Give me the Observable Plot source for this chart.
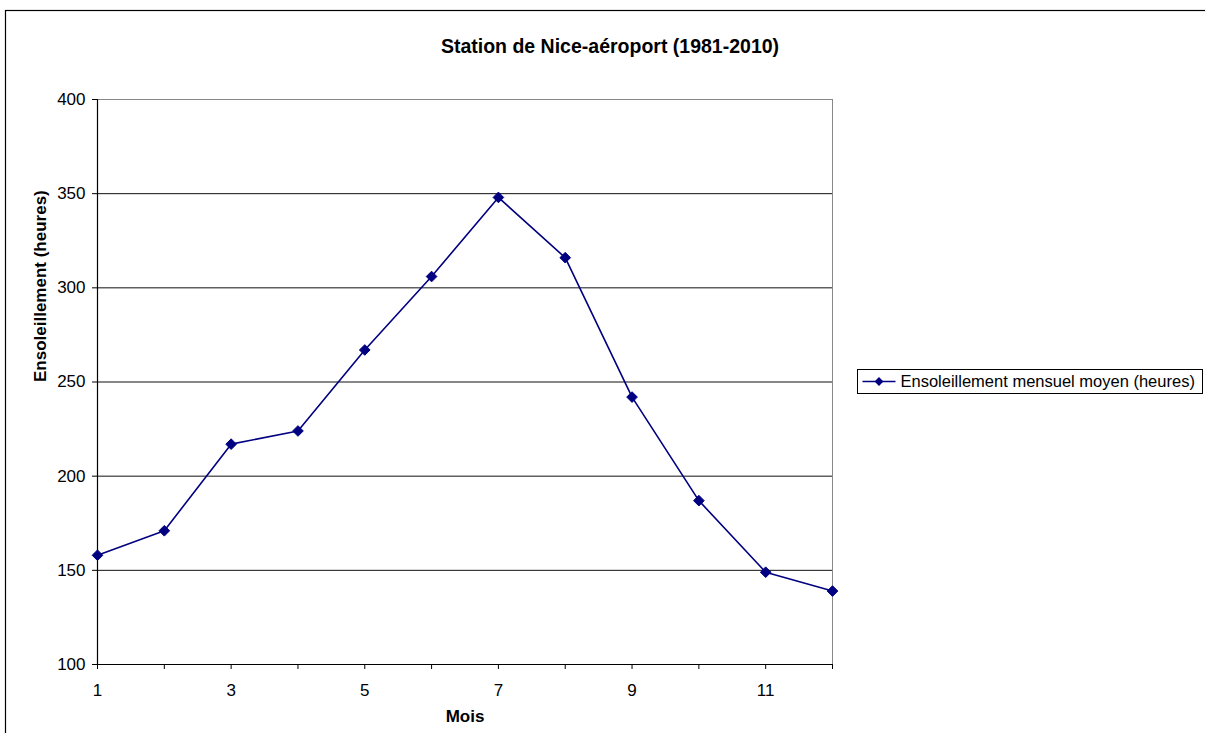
<!DOCTYPE html>
<html>
<head>
<meta charset="utf-8">
<script src="https://cdn.jsdelivr.net/npm/d3@7"></script>
<script src="https://cdn.jsdelivr.net/npm/@observablehq/plot@0.6"></script>
<style>
  html, body { margin: 0; padding: 0; background: #fff; }
  svg { display: block; }
</style>
</head>
<body>
<div id="chart"></div>
<script>
const months = [1, 2, 3, 4, 5, 6, 7, 8, 9, 10, 11, 12];
const sunshine = [158, 171, 217, 224, 267, 306, 348, 316, 242, 187, 149, 139];
const yTicks = [100, 150, 200, 250, 300, 350, 400];
const gridTicks = [150, 200, 250, 300, 350];
const title = "Station de Nice-aéroport (1981-2010)";
const xLabel = "Mois";
const yLabel = "Ensoleillement (heures)";
const seriesName = "Ensoleillement mensuel moyen (heures)";

const data = months.map((m, i) => ({month: m, value: sunshine[i]}));
const navy = "#000080";
const font = "'Liberation Sans', Arial, sans-serif";

const plot = Plot.plot({
  width: 1205,
  height: 733,
  marginLeft: 97,
  marginTop: 99,
  marginRight: 373,
  marginBottom: 69,
  style: {fontFamily: font, fontSize: "17px", color: "#000", background: "#fff"},
  x: {domain: [1, 12]},
  y: {domain: [100, 400]},
  marks: [
    Plot.frame({stroke: "#888", strokeWidth: 1}),
    Plot.ruleY(gridTicks, {stroke: "#111", strokeWidth: 1}),
    Plot.axisX({ticks: months, tickFormat: d => (d % 2 ? String(d) : ""), tickSize: 5, tickPadding: 14, label: null, fontSize: 17}),
    Plot.axisY({ticks: yTicks, tickSize: 5, tickPadding: 7, label: null, fontSize: 17}),
    Plot.ruleX([1], {stroke: "#000", strokeWidth: 1.2}),
    Plot.ruleY([100], {stroke: "#000", strokeWidth: 1.2}),
    Plot.line(data, {x: "month", y: "value", stroke: navy, strokeWidth: 1.6}),
    Plot.dot(data, {x: "month", y: "value", symbol: "diamond2", r: 4.8, fill: navy, stroke: navy, strokeWidth: 1}),
    Plot.text([title], {frameAnchor: "top", dx: 145, dy: -60, fontWeight: "bold", fontSize: 19.5}),
    Plot.text([xLabel], {frameAnchor: "bottom", dy: 57, fontWeight: "bold", fontSize: 17}),
    Plot.text([yLabel], {frameAnchor: "left", dx: -57, dy: 0, rotate: -90, fontWeight: "bold", fontSize: 17})
  ]
});

document.getElementById("chart").appendChild(plot);

// outer border and legend
const svg = d3.select(plot);
svg.insert("rect", ":first-child")
  .attr("x", 5.5).attr("y", 10.5)
  .attr("width", 1205).attr("height", 800)
  .attr("fill", "#fff").attr("stroke", "#000").attr("stroke-width", 1.2);

const lg = svg.append("g").attr("transform", "translate(857.5,369.5)");
lg.append("rect").attr("width", 345).attr("height", 24)
  .attr("fill", "#fff").attr("stroke", "#000").attr("stroke-width", 1);
lg.append("line").attr("x1", 5).attr("x2", 38).attr("y1", 12).attr("y2", 12)
  .attr("stroke", navy).attr("stroke-width", 1.5);
lg.append("path").attr("d", d3.symbol(d3.symbolDiamond2, 50)())
  .attr("transform", "translate(21.5,12)").attr("fill", navy);
lg.append("text").attr("x", 43).attr("y", 12).attr("dy", "0.35em")
  .attr("text-anchor", "start")
  .attr("font-family", font).attr("font-size", 16.5).text(seriesName);
</script>
</body>
</html>
